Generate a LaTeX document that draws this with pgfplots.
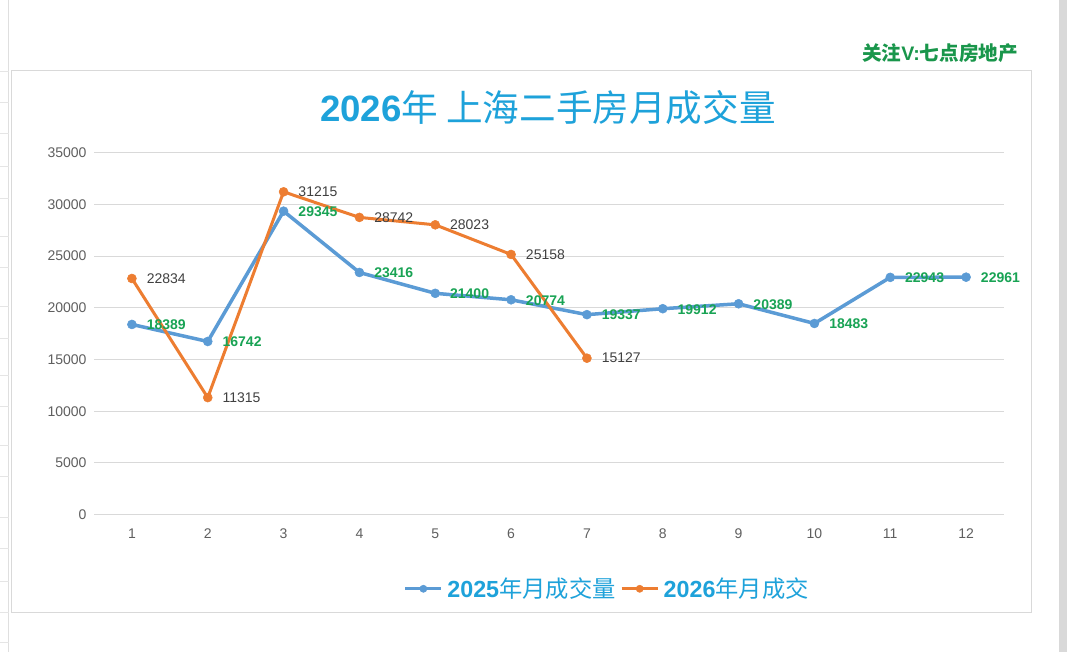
\documentclass[border=0pt]{standalone}
\usepackage{fontspec}
\setmainfont{Liberation Sans}
\newfontfamily\cjk{Noto Sans CJK SC}
\usepackage{pgfplots}
\pgfplotsset{compat=1.18}
\definecolor{titlec}{RGB}{30,162,218}
\definecolor{blueL}{RGB}{91,155,213}
\definecolor{orangeL}{RGB}{237,125,49}
\definecolor{greenL}{RGB}{24,163,84}
\definecolor{wm}{RGB}{25,150,75}
\definecolor{gridc}{RGB}{217,217,217}
\definecolor{tickc}{RGB}{95,95,95}
\definecolor{labc}{RGB}{64,64,64}
\begin{document}
\begin{tikzpicture}[x=1pt,y=1pt]
\useasboundingbox (0,0) rectangle (1080,652);
\fill[white] (0,0) rectangle (1080,652);
\draw[gray!25, line width=1pt] (8.5,0) -- (8.5,652);
\foreach \yy in {71,102,133,166,198,236,267,306,338,375,406,445,476,517,548,581,612,642}{\draw[gray!20,line width=0.8pt] (0,652-\yy) -- (8.5,652-\yy);}
\fill[gray!30] (1059,0) rectangle (1067,652);
\draw[gridc, line width=1pt] (11.5,39.5) rectangle (1031,581);
\node[font=\fontsize{19.6}{19.6}\selectfont\bfseries, text=wm] at (940,599) {{\cjk 关注}V:{\cjk 七点房地产}};
\node[font=\fontsize{36.6}{36.6}\selectfont, text=titlec] at (548,544) {{\bfseries 2026}{\cjk 年 上海二手房月成交量}};
\begin{axis}[at={(94pt,137.4pt)}, anchor=south west, scale only axis,
  width=910pt, height=361.9pt,
  xmin=0.5, xmax=12.5, ymin=0, ymax=35000,
  xtick={1,...,12}, ytick={0,5000,...,35000},
  axis line style={draw=none}, major tick length=0pt,
  ymajorgrids, grid style={gridc, line width=1pt},
  tick label style={font=\fontsize{14}{14}\selectfont, text=tickc},
  yticklabel style={xshift=-4pt},
  xticklabel style={yshift=-11pt},
  scaled y ticks=false,
  /pgf/number format/1000 sep={},
  /pgf/number format/assume math mode=true,
  clip=false,
  legend image code/.code={\draw[mark repeat=2,mark phase=2,#1,line width=3pt,mark size=3.6pt] plot coordinates {(0pt,0pt) (18pt,0pt) (36pt,0pt)};},
  legend style={at={(0.337,-0.205)}, anchor=west, draw=none, fill=none,
    font=\fontsize{23.3}{23.3}\selectfont, text=titlec,
    nodes={inner xsep=4.5pt},
    /tikz/every even column/.append style={column sep=0pt}},
  legend columns=2,
]
\addplot[blueL, line width=3.5pt, mark=*, mark size=4.5pt,
  mark options={solid, fill=blueL, draw=blueL, line width=0.5pt},
  nodes near coords,
  every node near coord/.append style={anchor=west, xshift=11.3pt, yshift=-0.5pt,
    font=\fontsize{14}{14}\selectfont\bfseries, text=greenL}]
coordinates {(1,18389) (2,16742) (3,29345) (4,23416) (5,21400) (6,20774) (7,19337) (8,19912) (9,20389) (10,18483) (11,22943) (12,22961)};
\addlegendentry{{\bfseries 2025}{\cjk 年月成交量}}
\addplot[orangeL, line width=3pt, mark=*, mark size=4.5pt,
  mark options={solid, fill=orangeL, draw=orangeL, line width=0.5pt},
  nodes near coords,
  every node near coord/.append style={anchor=west, xshift=11.3pt,
    font=\fontsize{14}{14}\selectfont, text=labc}]
coordinates {(1,22834) (2,11315) (3,31215) (4,28742) (5,28023) (6,25158) (7,15127)};
\addlegendentry{{\bfseries 2026}{\cjk 年月成交}}
\end{axis}
\end{tikzpicture}
\end{document}
